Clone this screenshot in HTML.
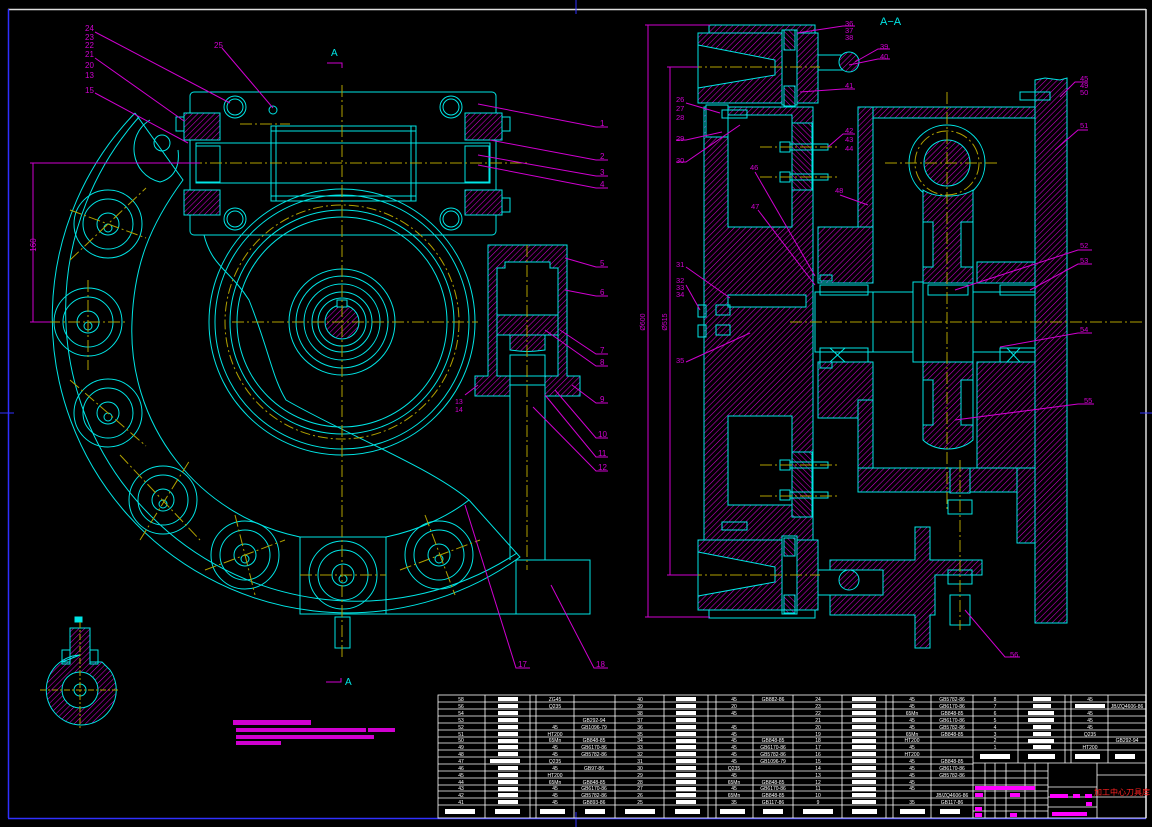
<!DOCTYPE html>
<html><head><meta charset="utf-8"><style>
html,body{margin:0;padding:0;background:#000;}
svg{display:block;}
text{font-family:"Liberation Sans","Noto Sans CJK SC",sans-serif;}
</style></head><body>
<svg width="1152" height="827" viewBox="0 0 1152 827" xmlns="http://www.w3.org/2000/svg">
<defs>
<pattern id="h" width="4" height="4" patternUnits="userSpaceOnUse" patternTransform="rotate(45)"><rect width="4" height="4" fill="#000"/><line x1="0" y1="0" x2="0" y2="4" stroke="#d000d0" stroke-width="1.1"/></pattern>
<pattern id="h2" width="4" height="4" patternUnits="userSpaceOnUse" patternTransform="rotate(-45)"><rect width="4" height="4" fill="#000"/><line x1="0" y1="0" x2="0" y2="4" stroke="#d000d0" stroke-width="1.1"/></pattern>
<g id="hl" fill="none" stroke="#00e5e5" stroke-width="1">
<circle r="34"/><circle r="25"/><circle r="11"/><circle r="4" cy="4"/>
</g>
</defs>
<rect width="1152" height="827" fill="#000"/>
<!-- frame -->
<line x1="8" y1="9.5" x2="1146" y2="9.5" stroke="#ddd" stroke-width="1.5"/>
<line x1="1146" y1="9" x2="1146" y2="818" stroke="#ddd" stroke-width="1.5"/>
<line x1="8.5" y1="9" x2="8.5" y2="818" stroke="#3030ff" stroke-width="1.5"/>
<line x1="8" y1="818.5" x2="1146" y2="818.5" stroke="#3030ff" stroke-width="1.5"/>
<line x1="576" y1="0" x2="576" y2="14" stroke="#3030ff"/><line x1="0" y1="413" x2="14" y2="413" stroke="#3030ff"/>
<line x1="1140" y1="413" x2="1152" y2="413" stroke="#3030ff"/><line x1="576" y1="812" x2="576" y2="827" stroke="#3030ff"/>

<!-- ===== LEFT VIEW ===== -->
<g fill="none" stroke="#00e5e5" stroke-width="1">
<path d="M135,113 A295,295 0 0 0 520,557 L469,500 C430,467 343,433 286,400 C272,377 269,350 249,300 C230,270 212,267 204,235"/>
<path d="M139,117 A291,291 0 0 0 517,553"/>
<path d="M135,113 L183,180 C150,225 134,265 132,322 A210,210 0 0 0 300,537 L386,537 C420,530 450,515 469,500"/>
<path d="M150,120 C125,135 130,175 160,182 C175,178 180,165 178,150"/>
<circle cx="162" cy="143" r="8"/>
<rect x="190" y="92" width="306" height="143" rx="4"/>
<rect x="196" y="143" width="294" height="40"/>
<rect x="271" y="126" width="145" height="75"/>
<line x1="271" y1="131" x2="416" y2="131"/><line x1="271" y1="196" x2="416" y2="196"/>
<line x1="276" y1="126" x2="276" y2="201"/><line x1="411" y1="126" x2="411" y2="201"/>
<rect x="196" y="146" width="24" height="36"/><rect x="465" y="146" width="24" height="36"/>
<circle cx="235" cy="107" r="11"/><circle cx="235" cy="107" r="8"/>
<circle cx="451" cy="107" r="11"/><circle cx="451" cy="107" r="8"/>
<circle cx="235" cy="219" r="11"/><circle cx="235" cy="219" r="8"/>
<circle cx="451" cy="219" r="11"/><circle cx="451" cy="219" r="8"/>
<circle cx="273" cy="110" r="4"/>
<circle cx="342" cy="322" r="133"/><circle cx="342" cy="322" r="127"/>
<circle cx="342" cy="322" r="112"/><circle cx="342" cy="322" r="105"/>
<circle cx="342" cy="322" r="53"/><circle cx="342" cy="322" r="46"/>
<circle cx="342" cy="322" r="38"/><circle cx="342" cy="322" r="30"/><circle cx="342" cy="322" r="24"/>
<rect x="300" y="537" width="86" height="77"/>
<rect x="335" y="617" width="15" height="31"/>
<line x1="510" y1="396" x2="510" y2="560"/><line x1="545" y1="396" x2="545" y2="560"/>
<rect x="516" y="560" width="74" height="54"/>
<line x1="386" y1="614" x2="590" y2="614"/>
<rect x="497" y="253" width="61" height="123"/>
<rect x="510" y="355" width="35" height="30"/>
</g>
<use href="#hl" x="108" y="224"/><use href="#hl" x="88" y="322"/><use href="#hl" x="108" y="413"/>
<use href="#hl" x="163" y="500"/><use href="#hl" x="245" y="555"/><use href="#hl" x="343" y="575"/><use href="#hl" x="439" y="555"/>
<circle cx="342" cy="322" r="117" fill="none" stroke="#b0a000" stroke-dasharray="10,3,2,3"/>
<g stroke="#00e5e5" stroke-width="1">
<circle cx="342" cy="322" r="17" fill="url(#h)"/>
<rect x="337" y="300" width="10" height="7" fill="#000"/>
<rect x="184" y="113" width="36" height="27" fill="url(#h)"/><rect x="184" y="190" width="36" height="25" fill="url(#h)"/>
<rect x="465" y="113" width="37" height="27" fill="url(#h)"/><rect x="465" y="190" width="37" height="25" fill="url(#h)"/>
<rect x="176" y="117" width="8" height="14" fill="none"/><rect x="502" y="117" width="8" height="14" fill="none"/>
<rect x="502" y="198" width="8" height="14" fill="none"/>
<path d="M488,245 H567 V376 H580 V396 H545 V376 H558 V268 H550 V262 H505 V268 H497 V376 H510 V396 H475 V376 H488 Z" fill="url(#h)"/>
<rect x="497" y="315" width="61" height="20" fill="url(#h)"/>
<path d="M510,335 H545 V350 C530,352 525,352 510,350 Z" fill="url(#h)"/>
</g>
<g stroke="#b0a000" stroke-width="1" stroke-dasharray="12,3,2,3" fill="none">
<line x1="342" y1="85" x2="342" y2="658"/>
<line x1="150" y1="163" x2="530" y2="163"/>
<line x1="232" y1="322" x2="478" y2="322"/>
<line x1="527" y1="245" x2="527" y2="570"/>
<line x1="48" y1="322" x2="128" y2="322"/><line x1="88" y1="280" x2="88" y2="370"/>
<line x1="70" y1="260" x2="146" y2="188"/><line x1="70" y1="210" x2="146" y2="238"/>
<line x1="70" y1="380" x2="146" y2="446"/><line x1="120" y1="455" x2="200" y2="540"/><line x1="140" y1="540" x2="190" y2="460"/>
<line x1="205" y1="570" x2="285" y2="540"/><line x1="235" y1="515" x2="255" y2="595"/>
<line x1="300" y1="575" x2="386" y2="575"/>
<line x1="400" y1="570" x2="480" y2="540"/><line x1="425" y1="515" x2="455" y2="595"/>
<line x1="240" y1="124" x2="290" y2="124"/>
</g>
<g stroke="#d000d0" fill="none">
<line x1="30" y1="163" x2="200" y2="163"/><line x1="30" y1="322" x2="50" y2="322"/>
<line x1="33" y1="163" x2="33" y2="322"/>
</g>
<text x="36" y="245" fill="#d000d0" font-size="8" transform="rotate(-90 36 245)" text-anchor="middle">160</text>
<text x="331" y="56" fill="#00e5e5" font-size="10">A</text>
<path d="M327,63 H342 V68" stroke="#d000d0" fill="none"/>
<text x="345" y="685" fill="#00e5e5" font-size="10">A</text>
<path d="M326,682 H341 V678" stroke="#d000d0" fill="none"/>
<g stroke="#00e5e5">
<path d="M80,655 A35,35 0 1 0 110,670 L102,662 L90,662 L90,628 L70,628 L70,662 L62,662 Z" fill="url(#h)"/>
<circle cx="80" cy="690" r="18" fill="#000"/>
<circle cx="80" cy="690" r="6" fill="none"/>
<rect x="62" y="650" width="8" height="14" fill="none"/><rect x="90" y="650" width="8" height="14" fill="none"/>
<rect x="75" y="617" width="7" height="5" fill="#00e5e5"/>
</g>
<g stroke="#b0a000" stroke-dasharray="6,2,2,2"><line x1="40" y1="690" x2="120" y2="690"/><line x1="80" y1="622" x2="80" y2="728"/></g>
<g fill="#d000d0">
<rect x="233" y="720" width="78" height="5"/>
<rect x="236" y="728" width="130" height="4"/><rect x="368" y="728" width="27" height="4"/>
<rect x="236" y="735" width="138" height="4"/>
<rect x="236" y="741" width="45" height="4"/>
</g>
<g fill="#d000d0" font-size="8">
<text x="85" y="31">24</text><text x="85" y="40">23</text><text x="85" y="48">22</text>
<text x="85" y="57">21</text><text x="85" y="68">20</text><text x="85" y="78">13</text>
<text x="85" y="93">15</text><text x="214" y="48">25</text>
<text x="600" y="126">1</text><text x="600" y="159">2</text><text x="600" y="175">3</text><text x="600" y="187">4</text>
<text x="600" y="266">5</text><text x="600" y="295">6</text><text x="600" y="353">7</text><text x="600" y="365">8</text>
<text x="600" y="402">9</text><text x="598" y="437">10</text><text x="598" y="456">11</text><text x="598" y="470">12</text>
<text x="518" y="667">17</text><text x="596" y="667">18</text>
<text x="455" y="404" font-size="7">13</text><text x="455" y="412" font-size="7">14</text>
</g>
<g stroke="#d000d0" fill="none">
<path d="M95,32 L230,103"/><path d="M95,58 L184,121"/><path d="M95,93 L188,143"/><path d="M222,48 L273,108"/>
<path d="M478,104 L596,127 H608"/><path d="M490,140 L596,160 H608"/><path d="M478,155 L596,176 H608"/><path d="M478,165 L596,188 H608"/>
<path d="M565,258 L596,267 H608"/><path d="M565,290 L596,296 H608"/><path d="M560,330 L596,354 H608"/><path d="M545,330 L596,366 H608"/>
<path d="M572,385 L596,403 H608"/><path d="M555,390 L596,438 H608"/><path d="M545,395 L596,457 H608"/><path d="M533,407 L596,471 H608"/>
<path d="M465,505 L516,668 H530"/><path d="M551,585 L594,668 H608"/><path d="M465,395 L478,385"/>
</g>

<!-- ===== RIGHT VIEW A-A ===== -->
<text x="880" y="25" fill="#00e5e5" font-size="11">A−A</text>
<g stroke="#00e5e5" stroke-width="1">
<rect x="709" y="25" width="106" height="8" fill="url(#h)"/>
<rect x="698" y="33" width="120" height="70" fill="url(#h)"/>
<polygon points="698,45 775,60 775,75 698,88" fill="#000"/>
<rect x="782" y="30" width="15" height="75" fill="#000"/>
<rect x="784" y="30" width="11" height="20" fill="url(#h2)"/><rect x="784" y="86" width="11" height="20" fill="url(#h2)"/>
<rect x="818" y="55" width="25" height="15" fill="none"/>
<circle cx="849" cy="62" r="10" fill="url(#h)"/>
<path d="M704,107 H813 V540 H704 Z M728,115 V227 H792 V115 Z M728,416 V505 H792 V416 Z" fill="url(#h)" fill-rule="evenodd"/>
<rect x="706" y="105" width="22" height="32" fill="#000"/>
<rect x="792" y="123" width="20" height="67" fill="url(#h2)"/>
<rect x="792" y="452" width="20" height="65" fill="url(#h2)"/>
<rect x="728" y="295" width="78" height="12" fill="#000"/>
<rect x="716" y="305" width="14" height="10" fill="none"/><rect x="716" y="325" width="14" height="10" fill="none"/>
<rect x="698" y="540" width="120" height="70" fill="url(#h)"/>
<polygon points="698,552 775,567 775,582 698,596" fill="#000"/>
<rect x="782" y="536" width="15" height="78" fill="#000"/>
<rect x="784" y="538" width="11" height="18" fill="url(#h2)"/><rect x="784" y="595" width="11" height="18" fill="url(#h2)"/>
<rect x="709" y="610" width="106" height="8" fill="none"/>
<rect x="858" y="107" width="177" height="11" fill="url(#h)"/>
<rect x="858" y="107" width="15" height="125" fill="url(#h)"/>
<rect x="818" y="227" width="55" height="56" fill="url(#h)"/>
<rect x="818" y="362" width="55" height="56" fill="url(#h)"/>
<rect x="858" y="400" width="15" height="92" fill="url(#h)"/>
<rect x="858" y="468" width="162" height="24" fill="url(#h)"/>
<rect x="977" y="262" width="58" height="21" fill="url(#h)"/>
<rect x="977" y="362" width="58" height="106" fill="url(#h)"/>
<rect x="1017" y="468" width="18" height="75" fill="url(#h)"/>
<path d="M1035,80 L1045,78 L1060,80 L1067,78 V623 H1035 Z" fill="url(#h)"/>
<circle cx="947" cy="163" r="38" fill="none"/>
<path d="M923,190 V283 H973 V190 C960,198 935,198 923,190 Z" fill="url(#h)"/>
<path d="M923,362 H973 V440 C960,452 935,452 923,440 Z" fill="url(#h)"/>
<rect x="923" y="222" width="10" height="45" fill="#000"/><rect x="961" y="222" width="12" height="45" fill="#000"/>
<rect x="923" y="380" width="10" height="45" fill="#000"/><rect x="961" y="380" width="12" height="45" fill="#000"/>
<circle cx="947" cy="163" r="23" fill="url(#h)"/>
<rect x="815" y="292" width="58" height="60" fill="#000"/>
<rect x="873" y="292" width="40" height="60" fill="#000"/>
<rect x="913" y="282" width="10" height="80" fill="#000"/>
<rect x="923" y="283" width="50" height="79" fill="#000"/>
<rect x="928" y="285" width="40" height="10" fill="none"/>
<rect x="973" y="292" width="62" height="60" fill="#000"/>
<rect x="820" y="285" width="48" height="10" fill="none"/><rect x="820" y="348" width="48" height="14" fill="none"/>
<rect x="1000" y="285" width="35" height="10" fill="none"/><rect x="1000" y="348" width="35" height="14" fill="none"/>
<path d="M830,348 L845,362 M845,348 L830,362 M1007,348 L1020,362 M1020,348 L1007,362" fill="none"/>
<path d="M830,560 H915 V527 H930 V560 H982 V575 H935 V615 H930 V648 H915 V615 H830 Z" fill="url(#h)"/>
<rect x="818" y="570" width="65" height="25" fill="#000"/>
<circle cx="849" cy="580" r="10" fill="url(#h)"/>
<rect x="950" y="595" width="20" height="30" fill="none"/>
<rect x="950" y="468" width="20" height="25" fill="url(#h)"/>
<rect x="948" y="500" width="24" height="14" fill="none"/><rect x="948" y="570" width="24" height="14" fill="none"/>
<g fill="none">
<rect x="780" y="142" width="10" height="10"/><rect x="790" y="144" width="38" height="6"/>
<rect x="780" y="172" width="10" height="10"/><rect x="790" y="174" width="38" height="6"/>
<rect x="780" y="460" width="10" height="10"/><rect x="790" y="462" width="38" height="6"/>
<rect x="780" y="490" width="10" height="10"/><rect x="790" y="492" width="38" height="6"/>
<rect x="722" y="110" width="25" height="8"/><rect x="722" y="522" width="25" height="8"/>
<rect x="698" y="305" width="8" height="12"/><rect x="698" y="325" width="8" height="12"/>
<rect x="1020" y="92" width="30" height="8"/><rect x="820" y="275" width="12" height="6"/><rect x="820" y="362" width="12" height="6"/>
</g>
</g>
<g stroke="#b0a000" stroke-dasharray="12,3,2,3" fill="none">
<line x1="790" y1="322" x2="1142" y2="322"/>
<line x1="947" y1="92" x2="947" y2="510"/>
<line x1="885" y1="163" x2="1000" y2="163"/>
<line x1="690" y1="67" x2="820" y2="67"/><line x1="690" y1="575" x2="820" y2="575"/>
<line x1="960" y1="460" x2="960" y2="630"/>
<line x1="760" y1="147" x2="840" y2="147"/><line x1="760" y1="177" x2="840" y2="177"/>
<line x1="760" y1="465" x2="840" y2="465"/><line x1="760" y1="496" x2="840" y2="496"/>
<circle cx="947" cy="163" r="32"/>
</g>
<g stroke="#d000d0" fill="none">
<line x1="648" y1="25" x2="648" y2="617"/><line x1="645" y1="25" x2="710" y2="25"/><line x1="645" y1="617" x2="710" y2="617"/>
<line x1="670" y1="67" x2="670" y2="575"/><line x1="667" y1="67" x2="698" y2="67"/><line x1="667" y1="575" x2="698" y2="575"/>
</g>
<text x="645" y="322" fill="#d000d0" font-size="7" transform="rotate(-90 645 322)" text-anchor="middle">Ø600</text>
<text x="667" y="322" fill="#d000d0" font-size="7" transform="rotate(-90 667 322)" text-anchor="middle">Ø515</text>
<g fill="#d000d0" font-size="7.5">
<text x="845" y="26">36</text><text x="845" y="33">37</text><text x="845" y="40">38</text>
<text x="880" y="49">39</text><text x="880" y="59">40</text><text x="845" y="88">41</text>
<text x="676" y="102">26</text><text x="676" y="111">27</text><text x="676" y="120">28</text>
<text x="676" y="141">29</text><text x="676" y="163">30</text>
<text x="845" y="133">42</text><text x="845" y="142">43</text><text x="845" y="151">44</text>
<text x="750" y="170">46</text><text x="751" y="209">47</text><text x="835" y="193">48</text>
<text x="676" y="267">31</text><text x="676" y="283">32</text><text x="676" y="290">33</text><text x="676" y="297">34</text>
<text x="676" y="363">35</text>
<text x="1080" y="81">45</text><text x="1080" y="88">49</text><text x="1080" y="95">50</text>
<text x="1080" y="128">51</text><text x="1080" y="248">52</text><text x="1080" y="263">53</text>
<text x="1080" y="332">54</text><text x="1084" y="403">55</text><text x="1010" y="657">56</text>
</g>
<g stroke="#d000d0" fill="none">
<path d="M797,33 L843,26 H855"/><path d="M855,62 L878,49 H890"/><path d="M849,65 L878,59 H890"/><path d="M800,92 L843,89 H855"/>
<path d="M720,113 L686,103"/><path d="M722,132 L686,140 H676"/><path d="M740,125 L686,162 H676"/>
<path d="M828,147 L843,134 H855"/><path d="M755,172 L815,276"/><path d="M758,210 L815,285"/><path d="M840,195 L868,205"/>
<path d="M686,267 L730,298"/><path d="M686,285 L700,310"/><path d="M686,362 L750,333"/>
<path d="M1060,97 L1075,82 H1088"/><path d="M1055,150 L1078,130 H1088"/><path d="M955,290 L1078,250 H1092"/>
<path d="M1030,290 L1078,264 H1092"/><path d="M1000,347 L1078,333 H1092"/><path d="M955,420 L1078,404 H1094"/>
<path d="M965,610 L1005,657 H1020"/>
</g>

<!-- ===== TABLE ===== -->
<g stroke="#fff" stroke-width="0.8" fill="none">
<rect x="438" y="695" width="708" height="123"/>
<path d="M438,702H973M438,709H973M438,716H973M438,723H973M438,730H973M438,737H973M438,743H973M438,750H973M438,757H973M438,764H973M438,771H973M438,778H973M438,785H973M438,791H973M438,798H973M438,805H973"/>
<path d="M973,702H1146M973,709H1146M973,716H1146M973,723H1146M973,730H1146M973,737H1146M973,743H1146M973,750H1146M973,763H1146"/>
<path d="M485,695V818M530,695V818M536,695V818M574,695V818M615,695V818M664,695V818M708,695V818M716,695V818M753,695V818M793,695V818M842,695V818M886,695V818M893,695V818M931,695V818M973,695V818"/>
<path d="M1018,695V763M1065,695V763M1071,695V763M1108,695V763"/>
<path d="M973,771H1048M973,778H1048M973,785H1048M973,791H1048M973,798H1048M973,805H1048M973,811H1048"/>
<path d="M985,763V818M995,763V818M1006,763V818M1025,763V818M1035,763V818M1048,763V818M1097,763V818"/>
<path d="M1048,787H1097M1048,797H1097M1048,807H1097M1097,775H1146M1097,797H1146"/>
</g>
<g fill="#fff">
<rect x="445" y="809" width="30" height="5"/><rect x="495" y="809" width="25" height="5"/><rect x="540" y="809" width="25" height="5"/><rect x="585" y="809" width="20" height="5"/>
<rect x="625" y="809" width="30" height="5"/><rect x="675" y="809" width="25" height="5"/><rect x="720" y="809" width="25" height="5"/><rect x="763" y="809" width="20" height="5"/>
<rect x="803" y="809" width="30" height="5"/><rect x="852" y="809" width="25" height="5"/><rect x="900" y="809" width="25" height="5"/><rect x="940" y="809" width="20" height="5"/>
<rect x="980" y="754" width="30" height="5"/><rect x="1028" y="754" width="27" height="5"/><rect x="1075" y="754" width="25" height="5"/><rect x="1115" y="754" width="20" height="5"/>
</g>
<g fill="#fff">
<rect x="498" y="697" width="20" height="4"/><rect x="498" y="704" width="20" height="4"/><rect x="498" y="711" width="20" height="4"/><rect x="498" y="718" width="20" height="4"/><rect x="498" y="725" width="20" height="4"/><rect x="498" y="732" width="20" height="4"/><rect x="498" y="739" width="20" height="4"/><rect x="498" y="745" width="20" height="4"/><rect x="498" y="752" width="20" height="4"/><rect x="490" y="759" width="30" height="4"/><rect x="498" y="766" width="20" height="4"/><rect x="498" y="773" width="20" height="4"/><rect x="498" y="780" width="20" height="4"/><rect x="498" y="787" width="20" height="4"/><rect x="498" y="793" width="20" height="4"/><rect x="498" y="800" width="20" height="4"/>
<rect x="676" y="697" width="20" height="4"/><rect x="676" y="704" width="20" height="4"/><rect x="676" y="711" width="20" height="4"/><rect x="676" y="718" width="20" height="4"/><rect x="676" y="725" width="20" height="4"/><rect x="676" y="732" width="20" height="4"/><rect x="676" y="739" width="20" height="4"/><rect x="676" y="745" width="20" height="4"/><rect x="676" y="752" width="20" height="4"/><rect x="676" y="759" width="20" height="4"/><rect x="676" y="766" width="20" height="4"/><rect x="676" y="773" width="20" height="4"/><rect x="676" y="780" width="20" height="4"/><rect x="676" y="787" width="20" height="4"/><rect x="676" y="793" width="20" height="4"/><rect x="676" y="800" width="20" height="4"/>
<rect x="852" y="697" width="24" height="4"/><rect x="852" y="704" width="24" height="4"/><rect x="852" y="711" width="24" height="4"/><rect x="852" y="718" width="24" height="4"/><rect x="852" y="725" width="24" height="4"/><rect x="852" y="732" width="24" height="4"/><rect x="852" y="739" width="24" height="4"/><rect x="852" y="745" width="24" height="4"/><rect x="852" y="752" width="24" height="4"/><rect x="852" y="759" width="24" height="4"/><rect x="852" y="766" width="24" height="4"/><rect x="852" y="773" width="24" height="4"/><rect x="852" y="780" width="24" height="4"/><rect x="852" y="787" width="24" height="4"/><rect x="852" y="793" width="24" height="4"/><rect x="852" y="800" width="24" height="4"/>
<rect x="1033" y="697" width="18" height="4"/><rect x="1033" y="704" width="18" height="4"/><rect x="1028" y="711" width="26" height="4"/><rect x="1028" y="718" width="26" height="4"/><rect x="1033" y="725" width="18" height="4"/><rect x="1033" y="732" width="18" height="4"/><rect x="1028" y="739" width="26" height="4"/><rect x="1033" y="745" width="18" height="4"/>
<rect x="1075" y="704" width="30" height="4"/>
</g>
<g fill="#fff" font-size="5" text-anchor="middle">
<text x="461" y="701">58</text><text x="461" y="708">56</text><text x="461" y="715">54</text><text x="461" y="722">53</text><text x="461" y="729">52</text><text x="461" y="736">51</text><text x="461" y="742">50</text><text x="461" y="749">49</text><text x="461" y="756">48</text><text x="461" y="763">47</text><text x="461" y="770">46</text><text x="461" y="777">45</text><text x="461" y="784">44</text><text x="461" y="790">43</text><text x="461" y="797">42</text><text x="461" y="804">41</text>
<text x="640" y="701">40</text><text x="640" y="708">39</text><text x="640" y="715">38</text><text x="640" y="722">37</text><text x="640" y="729">36</text><text x="640" y="736">35</text><text x="640" y="742">34</text><text x="640" y="749">33</text><text x="640" y="756">32</text><text x="640" y="763">31</text><text x="640" y="770">30</text><text x="640" y="777">29</text><text x="640" y="784">28</text><text x="640" y="790">27</text><text x="640" y="797">26</text><text x="640" y="804">25</text>
<text x="818" y="701">24</text><text x="818" y="708">23</text><text x="818" y="715">22</text><text x="818" y="722">21</text><text x="818" y="729">20</text><text x="818" y="736">19</text><text x="818" y="742">18</text><text x="818" y="749">17</text><text x="818" y="756">16</text><text x="818" y="763">15</text><text x="818" y="770">14</text><text x="818" y="777">13</text><text x="818" y="784">12</text><text x="818" y="790">11</text><text x="818" y="797">10</text><text x="818" y="804">9</text>
<text x="995" y="701">8</text><text x="995" y="708">7</text><text x="995" y="715">6</text><text x="995" y="722">5</text><text x="995" y="729">4</text><text x="995" y="736">3</text><text x="995" y="742">2</text><text x="995" y="749">1</text>
<text x="555" y="701">ZG45</text><text x="555" y="708">Q235</text><text x="555" y="729">45</text><text x="555" y="736">HT200</text><text x="555" y="742">65Mn</text><text x="555" y="749">45</text><text x="555" y="756">45</text><text x="555" y="763">Q235</text><text x="555" y="770">45</text><text x="555" y="777">HT200</text><text x="555" y="784">65Mn</text><text x="555" y="790">45</text><text x="555" y="797">45</text><text x="555" y="804">45</text>
<text x="594" y="722">GB292-94</text><text x="594" y="729">GB1096-79</text><text x="594" y="742">GB848-85</text><text x="594" y="749">GB6170-86</text><text x="594" y="756">GB5782-86</text><text x="594" y="770">GB97-86</text><text x="594" y="784">GB848-85</text><text x="594" y="790">GB6170-86</text><text x="594" y="797">GB5782-86</text><text x="594" y="804">GB893-86</text>
<text x="734" y="701">45</text><text x="734" y="708">20</text><text x="734" y="715">45</text><text x="734" y="729">45</text><text x="734" y="736">45</text><text x="734" y="742">45</text><text x="734" y="749">45</text><text x="734" y="756">45</text><text x="734" y="763">45</text><text x="734" y="770">Q235</text><text x="734" y="777">45</text><text x="734" y="784">65Mn</text><text x="734" y="790">45</text><text x="734" y="797">65Mn</text><text x="734" y="804">35</text>
<text x="773" y="701">GB882-86</text><text x="773" y="742">GB848-85</text><text x="773" y="749">GB6170-86</text><text x="773" y="756">GB5782-86</text><text x="773" y="763">GB1096-79</text><text x="773" y="784">GB848-85</text><text x="773" y="790">GB6170-86</text><text x="773" y="797">GB848-85</text><text x="773" y="804">GB117-86</text>
<text x="912" y="701">45</text><text x="912" y="708">45</text><text x="912" y="715">65Mn</text><text x="912" y="722">45</text><text x="912" y="729">45</text><text x="912" y="736">65Mn</text><text x="912" y="742">HT200</text><text x="912" y="749">45</text><text x="912" y="756">HT200</text><text x="912" y="763">45</text><text x="912" y="770">45</text><text x="912" y="777">45</text><text x="912" y="784">45</text><text x="912" y="790">45</text><text x="912" y="804">35</text>
<text x="952" y="701">GB5782-86</text><text x="952" y="708">GB6170-86</text><text x="952" y="715">GB848-85</text><text x="952" y="722">GB6170-86</text><text x="952" y="729">GB5782-86</text><text x="952" y="736">GB848-85</text><text x="952" y="763">GB848-85</text><text x="952" y="770">GB6170-86</text><text x="952" y="777">GB5782-86</text><text x="952" y="797">JB/ZQ4606-86</text><text x="952" y="804">GB117-86</text>
<text x="1090" y="701">45</text><text x="1090" y="715">45</text><text x="1090" y="722">45</text><text x="1090" y="729">45</text><text x="1090" y="736">Q235</text><text x="1090" y="749">HT200</text>
<text x="1127" y="708">JB/ZQ4606-86</text><text x="1127" y="742">GB292-94</text>
</g>
<g fill="#ff00ff" font-size="5">
<rect x="975" y="786" width="60" height="4"/><rect x="975" y="793" width="8" height="4"/><rect x="1010" y="793" width="10" height="4"/>
<rect x="975" y="807" width="7" height="4"/><rect x="975" y="813" width="7" height="4"/><rect x="1010" y="813" width="7" height="4"/>
<rect x="1050" y="794" width="18" height="4"/><rect x="1073" y="794" width="7" height="4"/><rect x="1085" y="794" width="7" height="4"/>
<rect x="1086" y="802" width="6" height="4"/><rect x="1052" y="812" width="35" height="4"/>
</g>
<text x="1122" y="795" fill="#ff2020" font-size="8" text-anchor="middle">加工中心刀具库</text>
</svg>
</body></html>
